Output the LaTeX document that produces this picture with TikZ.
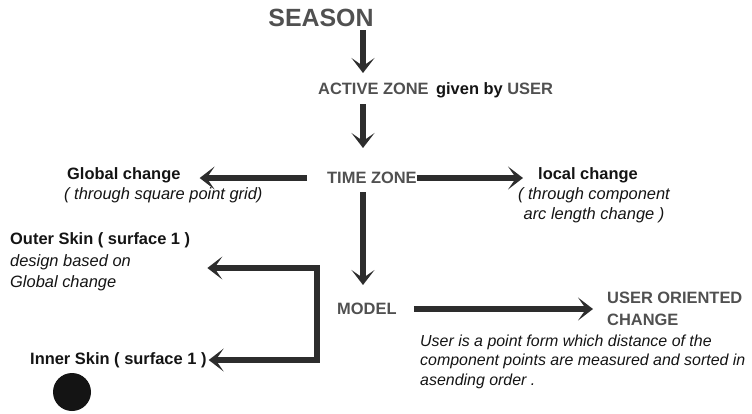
\documentclass[tikz,border=0pt]{standalone}
\usepackage{fontspec}
\setmainfont{Liberation Sans}
\usepackage{tikz}
\usetikzlibrary{positioning, arrows.meta}
\definecolor{zonegrey}{RGB}{80, 80, 80}
\definecolor{arrowgrey}{RGB}{45, 45, 45}
\definecolor{inkblack}{RGB}{20, 20, 20}

\begin{document}
\begin{tikzpicture}[x=1bp, y=-1bp,
    zonetext/.style={font=\fontsize{16.5}{22}\selectfont\bfseries, text=zonegrey, inner sep=0pt, align=left},
    titletext/.style={font=\fontsize{16.5}{20}\selectfont\bfseries, text=inkblack, inner sep=0pt},
    notetext/.style={font=\fontsize{16.5}{20}\selectfont\itshape, text=inkblack, inner sep=0pt},
    arrow/.style={->, >={Stealth[length=15pt, width=23pt, inset=8pt]}, line width=5.5pt, draw=arrowgrey}
]
    \useasboundingbox (0,0) rectangle (752,413);

    % Nodes
    \node (season) [zonetext, font=\fontsize{25}{30}\selectfont\bfseries] at (321,18) {SEASON};
    \node (active) [zonetext, anchor=west] at (318,89) {ACTIVE ZONE};
    \node (givenby) [titletext, right=7bp of active.base east, anchor=base west] {given by \textcolor{zonegrey}{USER}};
    \node (time) [zonetext, anchor=west] at (327,178) {TIME ZONE};

    \node (globaltitle) [titletext, anchor=west] at (67,175) {Global change};
    \node (globalnote) [notetext, below=20bp of globaltitle.base west, anchor=base west, xshift=-3bp] {( through square point grid)};

    \node (localtitle) [titletext, anchor=west] at (538,175) {local change};
    \node (localnote) [notetext, align=center, below=40bp of localtitle.base, anchor=base, xshift=6bp] {( through component\\arc length change )};

    \node (model) [zonetext, anchor=west] at (337,309) {MODEL};
    \node (useroriented) [zonetext, anchor=west] at (607,309) {USER ORIENTED\\CHANGE};
    \node (usernote) [notetext, align=left, anchor=base west, font=\fontsize{16}{19.5}\selectfont\itshape] at (420,385) {User is a point form which distance of the\\component points are measured and sorted in\\asending order .};

    \node (outer) [notetext, align=left, anchor=west, font=\fontsize{16.5}{21.5}\selectfont] at (10,262) {\textbf{Outer Skin ( surface 1 )}\\\textit{design based on}\\\textit{Global change}};
    \node (inner) [titletext, anchor=west] at (30,360) {Inner Skin ( surface 1 )};
    \node (dot) [circle, fill=inkblack, minimum size=38bp, inner sep=0pt] at (72,392) {};

    \coordinate (spine) at (363,0);
    \coordinate (bend1) at (317,268);
    \coordinate (bend2) at (317,360);

    % Arrows
    \draw [arrow, shorten <=3bp, shorten >=10bp] (season.south -| spine) -- (active.north -| spine);
    \draw [arrow, shorten <=9bp, shorten >=24bp] (active.south -| spine) -- (time.north -| spine);
    \draw [arrow, shorten >=15bp] (time.east) -- (time.east -| localtitle.west);
    \draw [arrow, shorten <=20bp, shorten >=19bp] (time.west) -- (time.west -| globaltitle.east);
    \draw [arrow, shorten <=8bp, shorten >=18bp] (time.south -| spine) -- (model.north -| spine);
    \draw [arrow, shorten <=17bp, shorten >=14bp] (model.east) -- (model.east -| useroriented.west);
    \draw [arrow, <->, shorten <=17bp, shorten >=2bp] (outer.east |- bend1) -- (bend1) -- (bend2) -- (inner.east |- bend2);
\end{tikzpicture}
\end{document}
